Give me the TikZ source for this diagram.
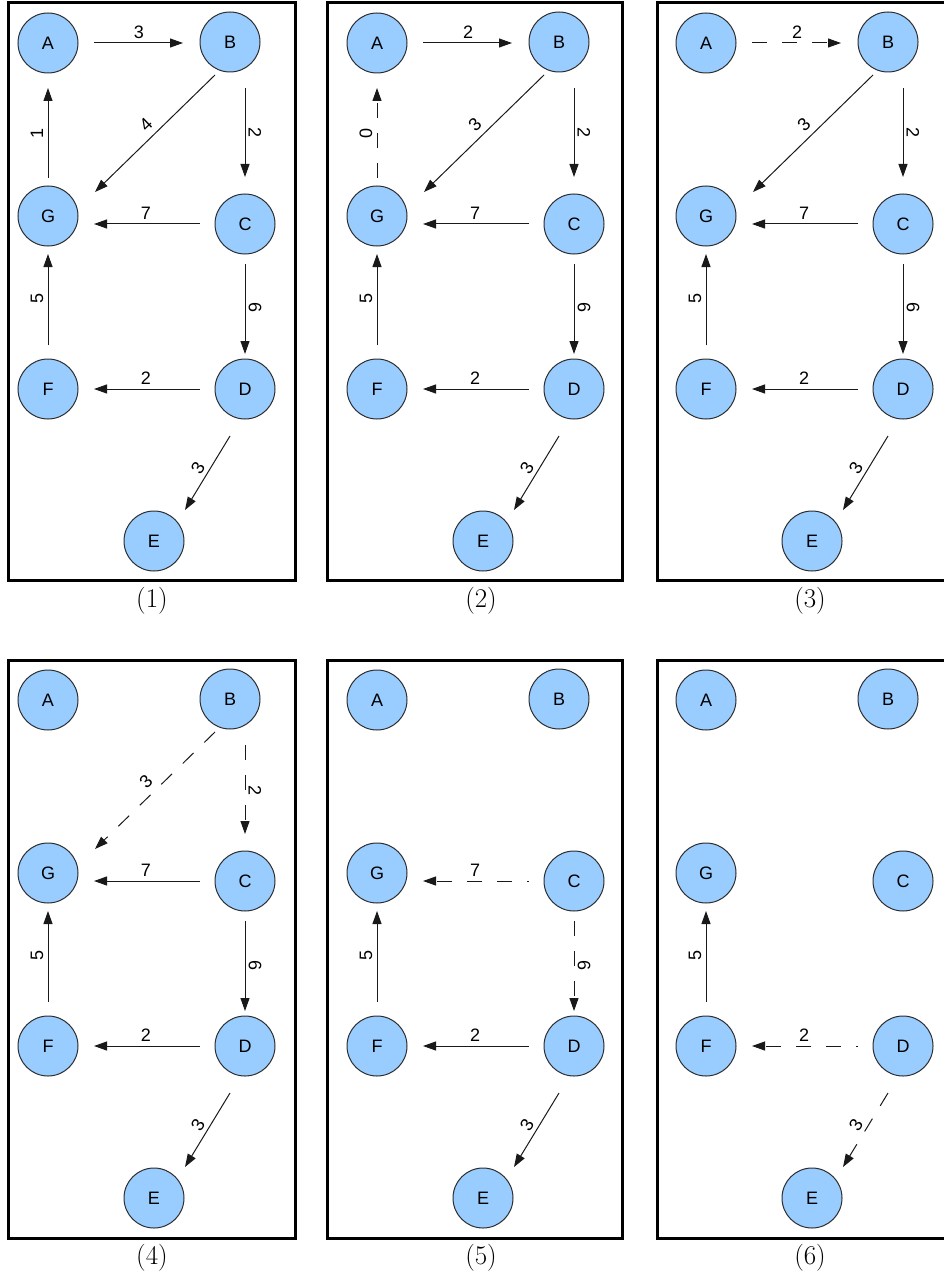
\documentclass[tikz,border=0pt]{standalone}
\usepackage{fontspec}
\newfontfamily\arial{Liberation Sans}
\usetikzlibrary{arrows.meta,calc}
\definecolor{nodefill}{RGB}{153,204,255}
\definecolor{nodeline}{RGB}{45,45,45}
\definecolor{edgecol}{RGB}{25,25,25}
\tikzset{
  vtx/.style={circle,draw=nodeline,line width=1pt,fill=nodefill,minimum size=60pt,inner sep=0pt,font=\arial\fontsize{18}{21}\selectfont},
  edge/.style={draw=edgecol,line width=1pt,-{Triangle[length=13pt,width=9pt]}},
  dsh/.style={edge,dash pattern=on 15pt off 15pt},
  lab/.style={font=\arial\fontsize{18}{21}\selectfont,inner sep=0pt},
  frm/.style={draw=black,line width=3pt},
  captxt/.style={font=\fontsize{27}{32}\selectfont,inner sep=0pt}
}
% nodes of one panel: prefix, dx, dy
\newcommand\vtxs[3]{%
  \begin{scope}[shift={(#2,#3)}]
    \node[vtx] (#1A) at (48,43) {A};
    \node[vtx] (#1B) at (230,42) {B};
    \node[vtx] (#1G) at (48,216) {G};
    \node[vtx] (#1C) at (245,224) {C};
    \node[vtx] (#1F) at (48,389) {F};
    \node[vtx] (#1D) at (245,389) {D};
    \node[vtx] (#1E) at (154,541) {E};
  \end{scope}}
% edges: prefix, style, label
\newcommand\eAB[3]{\draw[#2] ($(#1A)+(46,0)$) -- ($(#1B)+(-47,1)$);
  \node[lab] (#1lAB) at ($(#1A)+(91,-11)$) {#3};}
\newcommand\eBG[3]{\draw[#2] ($(#1B)+(-15,33)$) -- ($(#1G)+(47,-24)$);
  \node[lab,rotate=44] (#1lBG) at ($(#1G)+(98,-91)$) {#3};}
\newcommand\eBC[3]{\draw[#2] ($(#1C)+(0,-136)$) -- ($(#1C)+(0,-47)$);
  \node[lab,rotate=-90] (#1lBC) at ($(#1C)+(10,-91)$) {#3};}
\newcommand\eGA[3]{\draw[#2] ($(#1G)+(0,-38)$) -- ($(#1A)+(0,45)$);
  \node[lab,rotate=90] (#1lGA) at ($(#1A)+(-11,90)$) {#3};}
\newcommand\eCG[3]{\draw[#2] ($(#1C)+(-45,0)$) -- ($(#1G)+(46,8)$);
  \node[lab] (#1lCG) at ($(#1C)+(-99,-11)$) {#3};}
\newcommand\eCD[3]{\draw[#2] ($(#1C)+(0,40)$) -- ($(#1D)+(0,-35)$);
  \node[lab,rotate=-90] (#1lCD) at ($(#1D)+(10,-81)$) {#3};}
\newcommand\eFG[3]{\draw[#2] ($(#1F)+(0,-44)$) -- ($(#1G)+(0,38)$);
  \node[lab,rotate=90] (#1lFG) at ($(#1F)+(-11,-91)$) {#3};}
\newcommand\eDF[3]{\draw[#2] ($(#1D)+(-45,0)$) -- ($(#1F)+(46,0)$);
  \node[lab] (#1lDF) at ($(#1D)+(-99,-11)$) {#3};}
\newcommand\eDE[3]{\draw[#2] ($(#1D)+(-15,47)$) -- ($(#1E)+(31,-31)$);
  \node[lab,rotate=58.7] (#1lDE) at ($(#1E)+(44,-73)$) {#3};}
\begin{document}
\begin{tikzpicture}[x=1pt,y=-1pt]
\useasboundingbox (0,0) rectangle (943,1281);
% frames
\draw[frm] (8,3) rectangle (295,580);
\draw[frm] (327,3) rectangle (622,580);
\draw[frm] (657,3) rectangle (952,580);
\draw[frm] (8,660) rectangle (295,1238);
\draw[frm] (327,660) rectangle (622,1238);
\draw[frm] (657,660) rectangle (952,1238);
% captions
\node[captxt] (cap1) at (152,601) {(1)};
\node[captxt] (cap2) at (481,601) {(2)};
\node[captxt] (cap3) at (810,601) {(3)};
\node[captxt] (cap4) at (152,1258) {(4)};
\node[captxt] (cap5) at (481,1258) {(5)};
\node[captxt] (cap6) at (810,1258) {(6)};
% nodes
\vtxs{p}{0}{0}
\vtxs{q}{329}{0}
\vtxs{r}{658}{0}
\vtxs{s}{0}{657}
\vtxs{t}{329}{657}
\vtxs{u}{658}{657}
% panel 1
\eAB{p}{edge}{3}\eBG{p}{edge}{4}\eBC{p}{edge}{2}\eGA{p}{edge}{1}
\eCG{p}{edge}{7}\eCD{p}{edge}{6}\eFG{p}{edge}{5}\eDF{p}{edge}{2}\eDE{p}{edge}{3}
% panel 2
\eAB{q}{edge}{2}\eBG{q}{edge}{3}\eBC{q}{edge}{2}\eGA{q}{dsh}{0}
\eCG{q}{edge}{7}\eCD{q}{edge}{6}\eFG{q}{edge}{5}\eDF{q}{edge}{2}\eDE{q}{edge}{3}
% panel 3
\eAB{r}{dsh}{2}\eBG{r}{edge}{3}\eBC{r}{edge}{2}
\eCG{r}{edge}{7}\eCD{r}{edge}{6}\eFG{r}{edge}{5}\eDF{r}{edge}{2}\eDE{r}{edge}{3}
% panel 4
\eBG{s}{dsh}{3}\eBC{s}{dsh}{2}
\eCG{s}{edge}{7}\eCD{s}{edge}{6}\eFG{s}{edge}{5}\eDF{s}{edge}{2}\eDE{s}{edge}{3}
% panel 5
\eCG{t}{dsh,dash phase=13pt}{7}\eCD{t}{dsh}{6}\eFG{t}{edge}{5}\eDF{t}{edge}{2}\eDE{t}{edge}{3}
% panel 6
\eFG{u}{edge}{5}\eDF{u}{dsh,dash phase=13pt}{2}\eDE{u}{dsh}{3}
\end{tikzpicture}
\end{document}
